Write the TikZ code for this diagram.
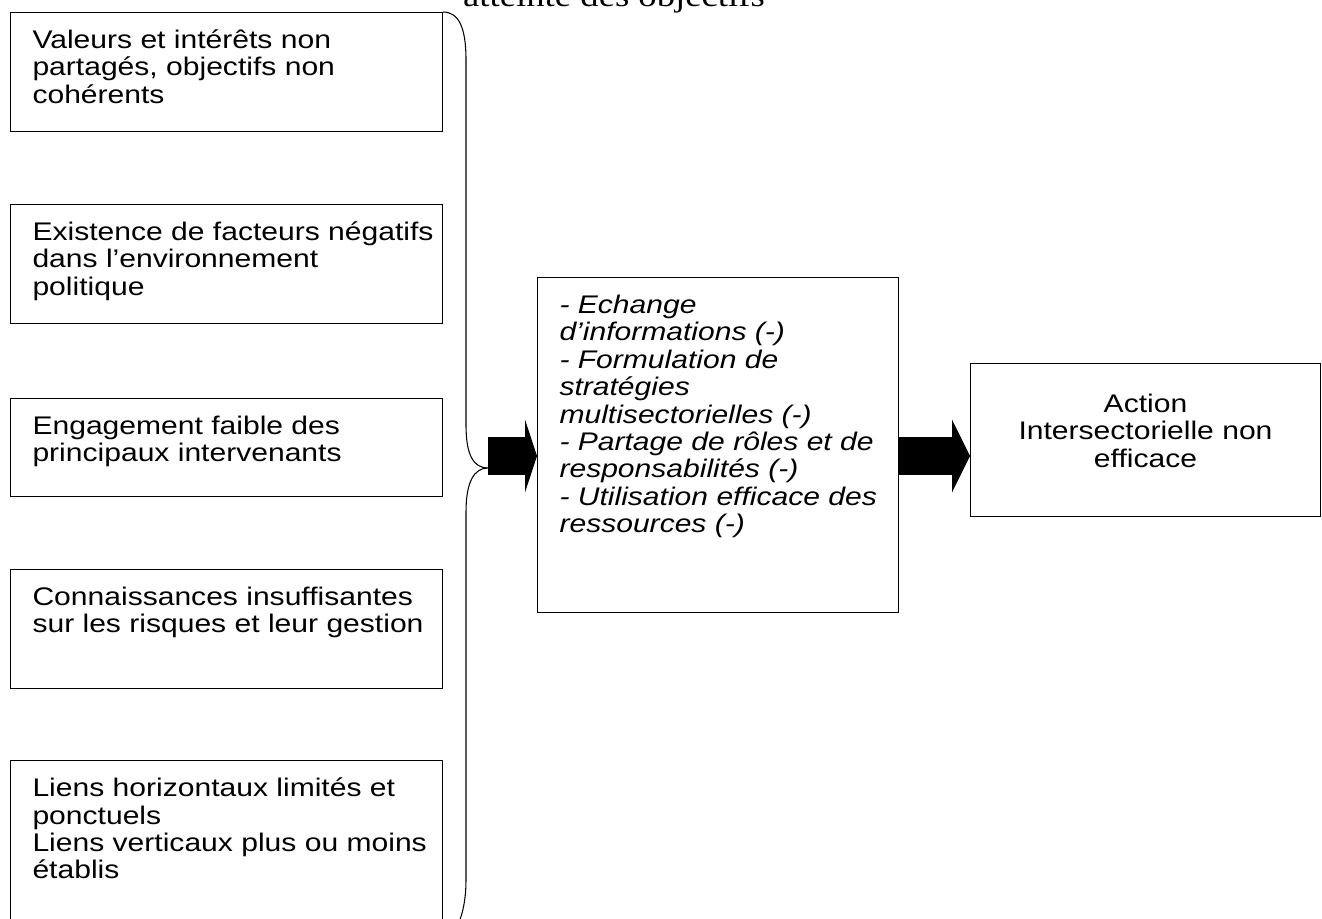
\documentclass[tikz,border=0pt]{standalone}
\usepackage{fontspec}
\setmainfont{Liberation Sans}[FakeStretch=1.18]
\newfontfamily\titlefont{Liberation Serif}[FakeStretch=1.18]
\usepackage{tikz}
\usetikzlibrary{arrows.meta,positioning}

\newcommand{\cellfont}{\fontsize{14.5pt}{15.6pt}\selectfont}
\newcommand{\celltext}[4][0.32cm]{\parbox[c][#3][t]{#2}{\baselineskip=15.6pt\lineskiplimit=-100pt\lineskip=0pt
  \vspace*{#1}\raggedright\leftskip=0.44cm\rule{0pt}{0.4cm}#4}}

\begin{document}
\begin{tikzpicture}[
  x=0.02cm, y=-0.02cm,
  cause/.style={draw, line width=0.6pt, inner sep=0pt, anchor=north west, font=\cellfont},
  brace/.style={line width=0.6pt},
  bigarrow/.style={line width=0.78cm, -{Triangle[length=#1, width=1.46cm, line width=0pt]}}
]
  \useasboundingbox (0,0) rectangle (1322,919);
  \clip (0,0) rectangle (1322,919);

  \node[font=\titlefont\fontsize{17.7pt}{21pt}\selectfont, anchor=base] (goal) at (614,7) {atteinte des objectifs};

  \node[cause] (v1) at (10,12) {\celltext{8.64cm}{2.38cm}{Valeurs et intérêts non\\partagés, objectifs non\\cohérents}};
  \node[cause, below=1.44cm of v1] (v2) {\celltext{8.64cm}{2.38cm}{Existence de facteurs négatifs\\dans l’environnement\\politique}};
  \node[cause, below=1.48cm of v2] (v3) {\celltext{8.64cm}{1.96cm}{Engagement faible des\\principaux intervenants}};
  \node[cause, below=1.44cm of v3] (v4) {\celltext{8.64cm}{2.38cm}{Connaissances insuffisantes\\sur les risques et leur gestion}};
  \node[cause, below=1.42cm of v4] (v5) {\celltext{8.64cm}{3.6cm}{Liens horizontaux limités et\\ponctuels\\Liens verticaux plus ou moins\\établis}};

  \node[cause] (mid) at (537,277) {\celltext{7.22cm}{6.7cm}{\itshape - Echange\\d’informations (-)\\- Formulation de\\stratégies\\multisectorielles (-)\\- Partage de rôles et de\\responsabilités (-)\\- Utilisation efficace des\\ressources (-)}};
  \node[cause] (act) at (970,363) {\celltext[0.58cm]{7.0cm}{3.06cm}{\centering Action\\Intersectorielle non\\efficace}};

  % accolade et fleches
  \coordinate (tip) at (488,468);
  \coordinate (axis) at (0,456);
  \draw[brace] (v1.north east) .. controls +(16,0) and (466,28) .. (466,60) -- (466,425)
    .. controls (466,456) and (474,468) .. (tip)
    .. controls (474,468) and (466,482) .. (466,512) -- (466,880)
    .. controls (466,910) and (458,934) .. (v5.south east);
  \draw[bigarrow=0.24cm] (tip |- axis) -- (mid.west |- axis);
  \draw[bigarrow=0.36cm] (mid.east |- axis) -- (act.west |- axis);
\end{tikzpicture}
\end{document}
